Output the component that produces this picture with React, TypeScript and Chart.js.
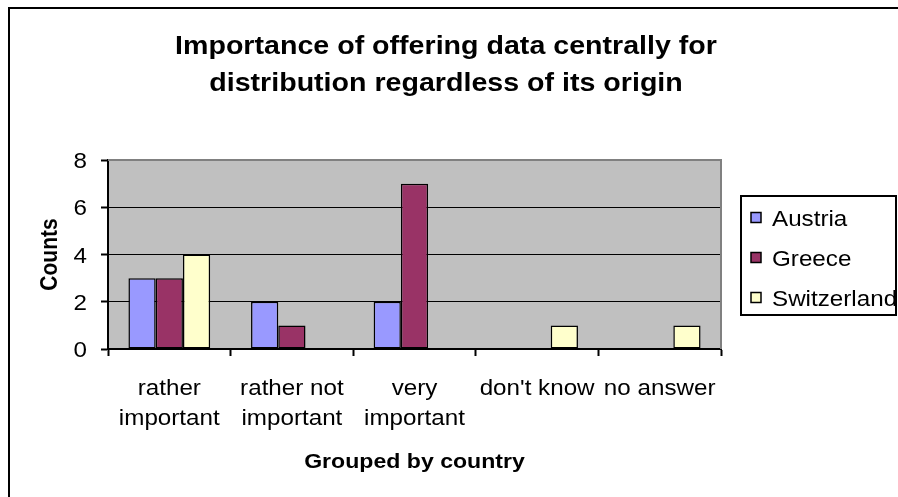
import { useEffect, useRef } from 'react';
import { Chart, registerables } from 'chart.js';

Chart.register(...registerables);

// ---- data ----
const categories: string[][] = [
  ['rather', 'important'],
  ['rather not', 'important'],
  ['very', 'important'],
  ["don't know"],
  ['no answer'],
];
const seriesNames = ['Austria', 'Greece', 'Switzerland'];
const austria = [3, 2, 2, 0, 0];
const greece = [3, 1, 7, 0, 0];
const switzerland = [4, 0, 0, 1, 1];
const yTicks = [0, 2, 4, 6, 8];
const titleLines = ['Importance of offering data centrally for', 'distribution regardless of its origin'];
const yTitle = 'Counts';
const xTitle = 'Grouped by country';

// ---- styling ----
const seriesColors = ['#9999FF', '#993366', '#FFFFCC'];
const FONT = '"Liberation Sans", Arial, sans-serif';
const SX = 1.1; // horizontal text stretch
const W = 898;
const H = 497;

function drawText(
  ctx: CanvasRenderingContext2D,
  s: string,
  x: number,
  y: number,
  font: string,
  align: CanvasTextAlign,
  rotate = false,
) {
  ctx.save();
  ctx.translate(x, y);
  ctx.scale(SX, 1);
  if (rotate) ctx.rotate(-Math.PI / 2);
  ctx.font = font;
  ctx.fillStyle = '#000';
  ctx.textAlign = align;
  ctx.textBaseline = 'alphabetic';
  ctx.fillText(s, 0, 0);
  ctx.restore();
}

const decorPlugin = {
  id: 'decor',
  beforeDraw(chart: any) {
    const { ctx, chartArea } = chart;
    ctx.save();
    ctx.fillStyle = '#FFFFFF';
    ctx.fillRect(0, 0, W, H);
    ctx.fillStyle = '#C0C0C0';
    ctx.fillRect(chartArea.left, chartArea.top, chartArea.right - chartArea.left, chartArea.bottom - chartArea.top);
    ctx.restore();
  },
  beforeDatasetsDraw(chart: any) {
    const { ctx, chartArea } = chart;
    ctx.save();
    ctx.strokeStyle = '#808080';
    ctx.lineWidth = 2;
    ctx.beginPath();
    ctx.moveTo(chartArea.left, chartArea.top);
    ctx.lineTo(chartArea.right, chartArea.top);
    ctx.lineTo(chartArea.right, chartArea.bottom);
    ctx.stroke();
    ctx.restore();
  },
  afterDraw(chart: any) {
    const { ctx, chartArea } = chart;
    const xScale = chart.scales.x;
    const yScale = chart.scales.y;

    // title
    const titleFont = `bold 26px ${FONT}`;
    const cx = 446;
    drawText(ctx, titleLines[0], cx, 54, titleFont, 'center');
    drawText(ctx, titleLines[1], cx, 91, titleFont, 'center');

    // y tick labels
    const tickFont = `22px ${FONT}`;
    yTicks.forEach((v) => {
      const y = yScale.getPixelForValue(v);
      drawText(ctx, String(v), 87, y + 8, tickFont, 'right');
    });

    // x category labels
    categories.forEach((lines, i) => {
      const x = xScale.getPixelForValue(i);
      lines.forEach((line, j) => {
        drawText(ctx, line, x, 395 + j * 30, tickFont, 'center');
      });
    });

    // axis titles
    const axisFont = `bold 21px ${FONT}`;
    drawText(ctx, yTitle, 57, (chartArea.top + chartArea.bottom) / 2, axisFont, 'center', true);
    drawText(ctx, xTitle, (chartArea.left + chartArea.right) / 2, 468, axisFont, 'center');

    // legend
    ctx.save();
    ctx.strokeStyle = '#000';
    ctx.lineWidth = 2;
    ctx.strokeRect(741, 196, 155, 119);
    ctx.restore();
    const legendY = [217.5, 257.5, 297.5];
    chart.data.datasets.forEach((ds: any, i: number) => {
      const y = legendY[i];
      ctx.save();
      ctx.fillStyle = ds.backgroundColor;
      ctx.fillRect(751, y - 5, 10, 10);
      ctx.strokeStyle = '#000';
      ctx.lineWidth = 1.5;
      ctx.strokeRect(751, y - 5, 10, 10);
      ctx.restore();
      drawText(ctx, ds.label, 772, y + 8, tickFont, 'left');
    });

    // outer frame
    ctx.save();
    ctx.strokeStyle = '#000';
    ctx.lineWidth = 2;
    ctx.beginPath();
    ctx.moveTo(9, H + 2);
    ctx.lineTo(9, 8);
    ctx.lineTo(W + 2, 8);
    ctx.stroke();
    ctx.restore();
  },
};

export default function App() {
  const canvasRef = useRef<HTMLCanvasElement | null>(null);

  useEffect(() => {
    const canvas = canvasRef.current;
    if (!canvas) return;
    const seriesValues = [austria, greece, switzerland];
    const chart = new Chart(canvas, {
      type: 'bar',
      data: {
        labels: categories,
        datasets: seriesNames.map((name, i) => ({
          label: name,
          data: seriesValues[i],
          backgroundColor: seriesColors[i],
          borderColor: '#000000',
          borderWidth: 1.5,
          borderSkipped: false,
          categoryPercentage: 2 / 3,
          barPercentage: 1,
        })),
      },
      options: {
        responsive: false,
        animation: false,
        devicePixelRatio: 1,
        layout: { padding: { left: 0, top: 160, right: W - 721, bottom: 0 } },
        plugins: {
          legend: { display: false },
          title: { display: false },
          tooltip: { enabled: false },
        },
        scales: {
          x: {
            ticks: { display: false },
            grid: {
              offset: true,
              drawOnChartArea: false,
              drawTicks: true,
              tickLength: 7,
              tickColor: '#000',
              tickWidth: 2,
              color: '#000',
            },
            border: { display: true, color: '#000', width: 2 },
            afterFit: (scale: any) => {
              scale.height = H - 349;
            },
          },
          y: {
            min: 0,
            max: 8,
            ticks: { display: false, stepSize: 2 },
            grid: {
              color: (c: any) => (c.tick && c.tick.value === 8 ? 'rgba(0,0,0,0)' : '#000'),
              lineWidth: 1,
              drawTicks: true,
              tickLength: 7,
              tickColor: '#000',
              tickWidth: 2,
            },
            border: { display: true, color: '#000', width: 2 },
            afterFit: (scale: any) => {
              scale.width = 108;
            },
          },
        },
      },
      plugins: [decorPlugin],
    });
    return () => chart.destroy();
  }, []);

  return (
    <div style={{ position: 'fixed', left: 0, top: 0, width: W, height: H }}>
      <canvas ref={canvasRef} width={W} height={H} style={{ display: 'block', width: W, height: H }} />
    </div>
  );
}
